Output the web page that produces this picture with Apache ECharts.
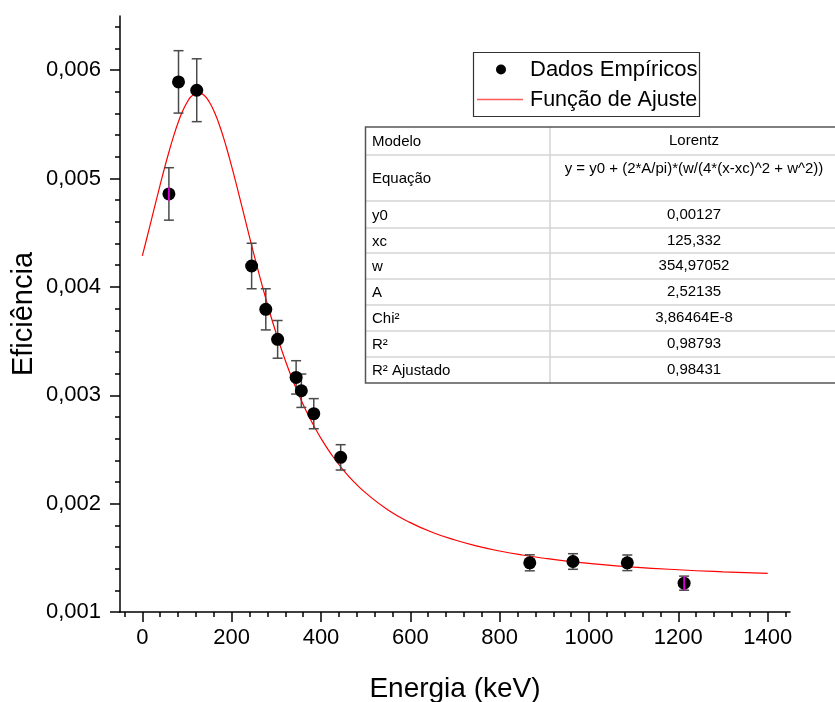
<!DOCTYPE html>
<html>
<head>
<meta charset="utf-8">
<script src="https://cdn.jsdelivr.net/npm/echarts@6/dist/echarts.min.js"></script>
<style>
  html, body { margin: 0; padding: 0; background: #fff; }
  #chart { width: 835px; height: 702px; }
</style>
</head>
<body>
<div id="chart"></div>
<script>
// pontos medidos (energia em keV, eficiência, incerteza)
const energies = [59.5, 81.0, 121.8, 244.7, 276.4, 302.9, 344.3, 356.0, 383.8, 444.0, 867.4, 964.1, 1085.8, 1212.9];
const efficiencies = [0.004858, 0.005892, 0.005815, 0.004193, 0.003793, 0.003516, 0.003165, 0.003042, 0.00283, 0.002427, 0.001454, 0.001466, 0.001454, 0.001266];
const errors = [0.000242, 0.000288, 0.00029, 0.00021, 0.00019, 0.000174, 0.000154, 0.000154, 0.000139, 0.000117, 0.000074, 0.000072, 0.000072, 0.000065];
const highlighted = [0, 13];

// curva de ajuste
const fitX = [0, 10, 20, 30, 40, 50, 60, 70, 80, 90, 100, 110, 125, 137.5, 150, 162.5, 175, 187.5, 200, 212.5, 225, 237.5, 250, 262.5, 275, 287.5, 300, 312.5, 325, 337.5, 350, 375, 400, 425, 450, 475, 500, 550, 600, 650, 700, 750, 800, 850, 900, 950, 1000, 1100, 1200, 1300, 1400];
const fitY = [0.004287, 0.004449, 0.004614, 0.004780, 0.004943, 0.005102, 0.005252, 0.005391, 0.005515, 0.005620, 0.005702, 0.005759, 0.005792, 0.005771, 0.005706, 0.005602, 0.005464, 0.005298, 0.005112, 0.004913, 0.004708, 0.004501, 0.004298, 0.004101, 0.003913, 0.003734, 0.003567, 0.003411, 0.003266, 0.003132, 0.003008, 0.002788, 0.002602, 0.002444, 0.002310, 0.002196, 0.002099, 0.001942, 0.001825, 0.001734, 0.001664, 0.001608, 0.001563, 0.001526, 0.001496, 0.001470, 0.001449, 0.001415, 0.001390, 0.001371, 0.001356];

const xMajorTicks = [0, 200, 400, 600, 800, 1000, 1200, 1400];
const yMajorTicks = [0.001, 0.002, 0.003, 0.004, 0.005, 0.006];

const tableLabels = ["Modelo", "Equação", "y0", "xc", "w", "A", "Chi²", "R²", "R² Ajustado"];
const tableValues = ["Lorentz", "y = y0 + (2*A/pi)*(w/(4*(x-xc)^2 + w^2))", "0,00127", "125,332", "354,97052", "2,52135", "3,86464E-8", "0,98793", "0,98431"];

const xMinorTicks = [];
for (let v = -40; v <= 1440; v += 40) xMinorTicks.push(v);
const yMinorTicks = [];
for (let k = 6; k <= 32; k++) yMinorTicks.push(+(k * 0.0002).toFixed(4));

const chart = echarts.init(document.getElementById("chart"), null, { renderer: "canvas" });

const font = "Liberation Sans, Arial, sans-serif";
const axisColor = "#000";

// tabela de parâmetros
const rowEdges = [127, 155, 201, 228, 253, 279, 305, 331, 357, 383];
const tableLeft = 365.5, tableRight = 835, colX = 550;
const tableGraphics = [];
tableGraphics.push({
  type: "rect", shape: { x: tableLeft, y: rowEdges[0], width: tableRight - tableLeft + 2, height: rowEdges[9] - rowEdges[0] },
  style: { fill: "#fff", stroke: null }, z: 10
});
for (let i = 1; i < rowEdges.length - 1; i++) {
  tableGraphics.push({
    type: "line", shape: { x1: tableLeft, y1: rowEdges[i], x2: tableRight, y2: rowEdges[i] },
    style: { stroke: "#d4d4d4", lineWidth: 1.5 }, z: 11
  });
}
tableGraphics.push({
  type: "line", shape: { x1: colX, y1: rowEdges[0], x2: colX, y2: rowEdges[9] },
  style: { stroke: "#d4d4d4", lineWidth: 1.5 }, z: 11
});
tableGraphics.push({
  type: "polyline", shape: { points: [[tableRight, rowEdges[0]], [tableLeft, rowEdges[0]], [tableLeft, rowEdges[9]], [tableRight, rowEdges[9]]] },
  style: { stroke: "#555", lineWidth: 1.5, fill: null }, z: 12
});
tableLabels.forEach(function (lab, i) {
  const cy = (rowEdges[i] + rowEdges[i + 1]) / 2;
  tableGraphics.push({
    type: "text", x: 372, y: cy + 1, z: 13,
    style: { text: lab, font: "15px " + font, fill: "#000", textAlign: "left", textVerticalAlign: "middle" }
  });
  tableGraphics.push({
    type: "text", x: 694, y: i === 1 ? rowEdges[i] + 14 : cy, z: 13,
    style: { text: tableValues[i], font: "15px " + font, fill: "#000", textAlign: "center", textVerticalAlign: "middle" }
  });
});

// legenda
const legendGraphics = [
  { type: "rect", shape: { x: 473.5, y: 52.5, width: 226, height: 64 }, style: { fill: "#fff", stroke: "#333", lineWidth: 1.2 }, z: 10 },
  { type: "circle", shape: { cx: 501, cy: 69.5, r: 5 }, style: { fill: "#000" }, z: 11 },
  { type: "text", x: 530, y: 70, z: 11, style: { text: "Dados Empíricos", font: "22px " + font, fill: "#000", textVerticalAlign: "middle" } },
  { type: "line", shape: { x1: 477, y1: 99.5, x2: 523, y2: 99.5 }, style: { stroke: "#ff5a5a", lineWidth: 1.5 }, z: 11 },
  { type: "text", x: 530, y: 100, z: 11, style: { text: "Função de Ajuste", font: "21.5px " + font, fill: "#000", textVerticalAlign: "middle" } }
];

const points = energies.map(function (e, i) { return [e, efficiencies[i], errors[i]]; });

const option = {
  animation: false,
  backgroundColor: "#fff",
  grid: { left: 120, right: 45, top: 16, bottom: 90, containLabel: false, outerBoundsMode: "none" },
  xAxis: [
    {
      type: "value", position: "bottom", min: -50, max: 1450,
      name: "Energia (keV)", nameLocation: "middle", nameGap: 63,
      nameTextStyle: { fontSize: 28, fontFamily: font, color: "#000" },
      axisLine: { onZero: false, lineStyle: { color: axisColor, width: 1.5 } },
      axisTick: { customValues: xMajorTicks, length: 10, lineStyle: { color: axisColor, width: 1.5 } },
      axisLabel: {
        customValues: xMajorTicks, margin: 15, fontSize: 22, fontFamily: font, color: "#000",
        formatter: function (v) { return String(v); }
      },
      splitLine: { show: false }
    },
    {
      type: "value", position: "bottom", min: -50, max: 1450,
      axisLine: { show: false, onZero: false },
      axisTick: { customValues: xMinorTicks, length: 5, lineStyle: { color: axisColor, width: 1.5 } },
      axisLabel: { show: false },
      splitLine: { show: false }
    }
  ],
  yAxis: [
    {
      type: "value", position: "left", min: 0.001, max: 0.0065,
      name: "Eficiência", nameLocation: "middle", nameGap: 82, nameMoveOverlap: false,
      nameTextStyle: { fontSize: 29, fontFamily: font, color: "#000" },
      axisLine: { onZero: false, lineStyle: { color: axisColor, width: 1.5 } },
      axisTick: { customValues: yMajorTicks, length: 10, lineStyle: { color: axisColor, width: 1.5 } },
      axisLabel: {
        customValues: yMajorTicks, margin: 19, fontSize: 22, fontFamily: font, color: "#000",
        formatter: function (v) { return v.toFixed(3).replace(".", ","); }
      },
      splitLine: { show: false }
    },
    {
      type: "value", position: "left", min: 0.001, max: 0.0065,
      axisLine: { show: false, onZero: false },
      axisTick: { customValues: yMinorTicks, length: 5, lineStyle: { color: axisColor, width: 1.5 } },
      axisLabel: { show: false },
      splitLine: { show: false }
    }
  ],
  series: [
    {
      name: "Função de Ajuste", type: "line", smooth: true, showSymbol: false,
      data: fitX.map(function (x, i) { return [x, fitY[i]]; }),
      lineStyle: { color: "#ff0000", width: 1.2 }, z: 2
    },
    {
      name: "erro", type: "custom", data: points, z: 3,
      renderItem: function (params, api) {
        const x = api.value(0), y = api.value(1), e = api.value(2);
        const top = api.coord([x, y + e]);
        const bot = api.coord([x, y - e]);
        const cap = 5;
        const st = { stroke: "#4a4a4a", lineWidth: 1.5 };
        return {
          type: "group",
          children: [
            { type: "line", shape: { x1: top[0], y1: top[1], x2: bot[0], y2: bot[1] }, style: st },
            { type: "line", shape: { x1: top[0] - cap, y1: top[1], x2: top[0] + cap, y2: top[1] }, style: st },
            { type: "line", shape: { x1: bot[0] - cap, y1: bot[1], x2: bot[0] + cap, y2: bot[1] }, style: st }
          ]
        };
      }
    },
    {
      name: "Dados Empíricos", type: "scatter", data: points, symbolSize: 13,
      itemStyle: { color: "#000", opacity: 1 }, z: 4
    },
    {
      name: "destaque", type: "custom", z: 5,
      data: highlighted.map(function (i) { return points[i]; }),
      renderItem: function (params, api) {
        const c = api.coord([api.value(0), api.value(1)]);
        return { type: "line", shape: { x1: c[0], y1: c[1] - 7, x2: c[0], y2: c[1] + 7 }, style: { stroke: "#ff00ff", lineWidth: 1.5 } };
      }
    }
  ],
  graphic: legendGraphics.concat(tableGraphics)
};

chart.setOption(option);
window.addEventListener("resize", chart.resize);
</script>
</body>
</html>
